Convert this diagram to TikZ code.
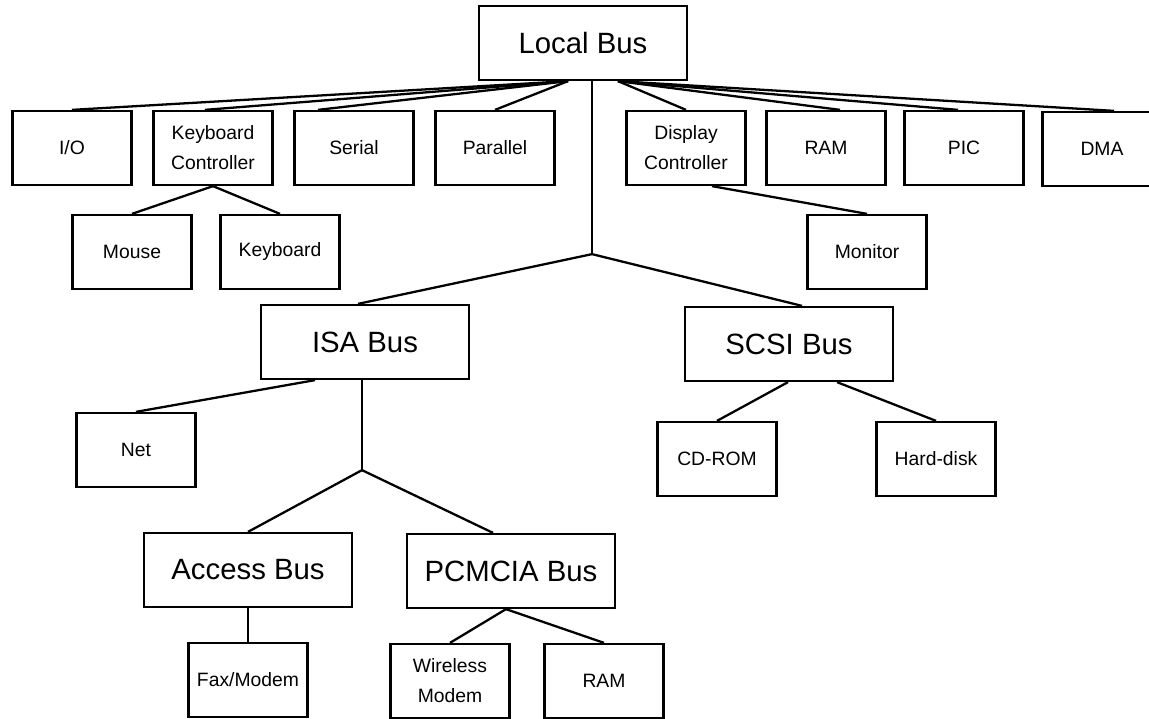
\documentclass[tikz,border=0pt]{standalone}
\usepackage{fontspec}
\setmainfont{Liberation Sans}
\usetikzlibrary{calc}

\begin{document}
\begin{tikzpicture}[
	x=0.02cm, y=-0.02cm, line width=1.3pt,
	unit/.style={draw, minimum width=2.38cm, minimum height=1.48cm,
		inner sep=0pt, align=center,
		font=\fontsize{11}{17}\selectfont},
	bus/.style={draw, minimum width=4.16cm, minimum height=1.48cm,
		inner sep=0pt, font=\fontsize{16.7}{20}\selectfont}]
	\clip (0,0) rectangle (1149,719);
	\node [bus] (1) at (583,43)
		{Local Bus};
	\node [unit] (2) at (72,148)
		{I/O};
	\node [unit] (3) at (213,148)
		{Keyboard\\Controller};
	\node [unit] (4) at (354,148)
		{Serial};
	\node [unit] (5) at (495,148)
		{Parallel};
	\node [unit] (6) at (686,148)
		{Display\\Controller};
	\node [unit] (7) at (826,148)
		{RAM};
	\node [unit] (8) at (964,148)
		{PIC};
	\node [unit] (9) at (1102,149)
		{DMA};
	\node [unit] (10) at (132,252)
		{Mouse};
	\node [unit] (11) at (280,252)
		{Keyboard};
	\node [unit] (12) at (867,252)
		{Monitor};
	\node [bus] (13) at (365,342)
		{ISA Bus};
	\node [bus] (14) at (789,344)
		{SCSI Bus};
	\node [unit] (15) at (136,450)
		{Net};
	\node [unit] (16) at (717,459)
		{CD-ROM};
	\node [unit] (17) at (936,459)
		{Hard-disk};
	\node [bus] (18) at (248,570)
		{Access Bus};
	\node [bus] (19) at (511,571)
		{PCMCIA Bus};
	\node [unit] (20) at (248,680)
		{Fax/Modem};
	\node [unit] (21) at (450,681)
		{Wireless\\Modem};
	\node [unit] (22) at (604,681)
		{RAM};
	\coordinate (a) at ($(1.south)+(-15,0)$);
	\coordinate (b) at ($(1.south)+(35,0)$);
	\coordinate (j1) at ($(1.south)+(9,173)$);
	\coordinate (j2) at ($(13.south)+(-3,90)$);
	\draw (a) to (2.north);
	\draw (a) to ($(3.north)+(-8,0)$);
	\draw (a) to ($(4.north)+(-36,0)$);
	\draw (a) to (5.north);
	\draw (b) to (6.north);
	\draw (b) to ($(7.north)+(14,0)$);
	\draw (b) to ($(8.north)+(-6,0)$);
	\draw (b) to ($(9.north)+(12,0)$);
	\draw (3.south) to (10.north);
	\draw (3.south) to (11.north);
	\draw ($(6.south)+(26,0)$) to (12.north);
	\draw ($(1.south)+(9,0)$) to (j1);
	\draw (j1) to ($(13.north)+(-7,0)$);
	\draw (j1) to ($(14.north)+(13,0)$);
	\draw ($(13.south)+(-50,0)$) to (15.north);
	\draw ($(13.south)+(-3,0)$) to (j2);
	\draw (j2) to (18.north);
	\draw (j2) to ($(19.north)+(-18,0)$);
	\draw ($(14.south)+(-1,0)$) to (16.north);
	\draw ($(14.south)+(48,0)$) to (17.north);
	\draw (18.south) to (20.north);
	\draw ($(19.south)+(-5,0)$) to (21.north);
	\draw ($(19.south)+(-5,0)$) to (22.north);
\end{tikzpicture}
\end{document}
